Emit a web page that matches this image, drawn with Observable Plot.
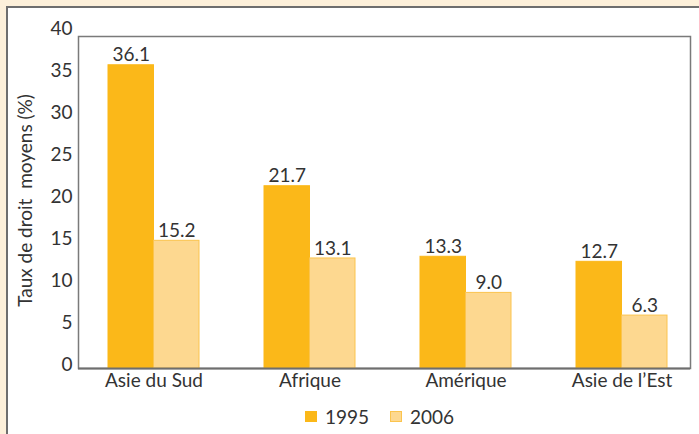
<!DOCTYPE html>
<html>
<head>
<meta charset="utf-8">
<script src="https://cdn.jsdelivr.net/npm/d3@7"></script>
<script src="https://cdn.jsdelivr.net/npm/@observablehq/plot@0.6"></script>
<style>
  html, body { margin: 0; padding: 0; }
  body { width: 699px; height: 434px; background: #fdf0da; position: relative; overflow: hidden; font-family: Lato, "Open Sans", sans-serif; }
  #panel { position: absolute; left: 6px; top: 6px; width: 720px; height: 460px; background: #fff; border-left: 2px solid #6e6e6e; border-top: 2px solid #6e6e6e; box-sizing: border-box; }
  #chart { position: absolute; left: 0; top: 0; }
  #legend { position: absolute; left: 0; top: 400px; width: 699px; height: 34px; font-size: 19px; color: #333; }
  .item { position: absolute; top: 5px; display: flex; align-items: center; }
  .sw { width: 12px; height: 11px; margin-right: 8px; box-sizing: border-box; }
</style>
</head>
<body>
<div id="panel"></div>
<div id="chart"></div>
<div id="legend"></div>
<script>
const regions = ["Asie du Sud", "Afrique", "Amérique", "Asie de l’Est"];
const years = ["1995", "2006"];
const values1995 = [36.1, 21.7, 13.3, 12.7];
const values2006 = [15.2, 13.1, 9.0, 6.3];
const yTicks = [0, 5, 10, 15, 20, 25, 30, 35, 40];
const colors = { "1995": "#fbb819", "2006": "#fdd890" };
const strokes = { "1995": "#fbb819", "2006": "#fbc44e" };
const yLabel = "Taux de droit\u00a0 moyens (%)";

const d1995 = regions.map((r, i) => ({ region: r, year: "1995", value: values1995[i] }));
const d2006 = regions.map((r, i) => ({ region: r, year: "2006", value: values2006[i] }));

const font = "Lato, 'Open Sans', sans-serif";

const plot = Plot.plot({
  width: 699,
  height: 400,
  marginLeft: 78,
  marginRight: 9,
  marginTop: 32,
  marginBottom: 32,
  style: { background: "transparent", fontFamily: font, fontSize: "19px", color: "#333" },
  x: { domain: regions, paddingInner: 0.4174, paddingOuter: 0.168, align: 0.57, label: null },
  y: { domain: [0, 40], label: null },
  marks: [
    Plot.frame({ insetTop: 4, stroke: "#7a7a7a", strokeWidth: 1.5 }),
    Plot.barY(d1995, { x: "region", y: "value", fill: colors["1995"], stroke: strokes["1995"], strokeWidth: 1, insetRight: 45.5 }),
    Plot.barY(d2006, { x: "region", y: "value", fill: colors["2006"], stroke: strokes["2006"], strokeWidth: 1, insetLeft: 45.5 }),
    Plot.text(d1995, { x: "region", y: "value", text: d => d.value.toFixed(1), dx: -22.75, dy: -10, fontSize: 19, fill: "#333" }),
    Plot.text(d2006, { x: "region", y: "value", text: d => d.value.toFixed(1), dx: 22.75, dy: -10, fontSize: 19, fill: "#333" }),
    Plot.ruleY([0], { stroke: "#6e6e6e", strokeWidth: 2 }),
    Plot.axisY({ ticks: yTicks, tickSize: 0, tickPadding: 6, dy: -4, fontSize: 19, label: yLabel, labelAnchor: "center", labelArrow: "none", labelOffset: 60 }),
    Plot.axisX({ tickSize: 0, tickPadding: 5, fontSize: 19, label: null })
  ]
});
plot.style.fontFamily = font;
document.getElementById("chart").appendChild(plot);

const legend = document.getElementById("legend");
const positions = [305, 390];
years.forEach((y, i) => {
  const item = document.createElement("div");
  item.className = "item";
  item.style.left = positions[i] + "px";
  const sw = document.createElement("div");
  sw.className = "sw";
  sw.style.background = colors[y];
  sw.style.border = "1px solid " + strokes[y];
  const t = document.createElement("span");
  t.textContent = y;
  item.appendChild(sw);
  item.appendChild(t);
  legend.appendChild(item);
});
</script>
</body>
</html>
